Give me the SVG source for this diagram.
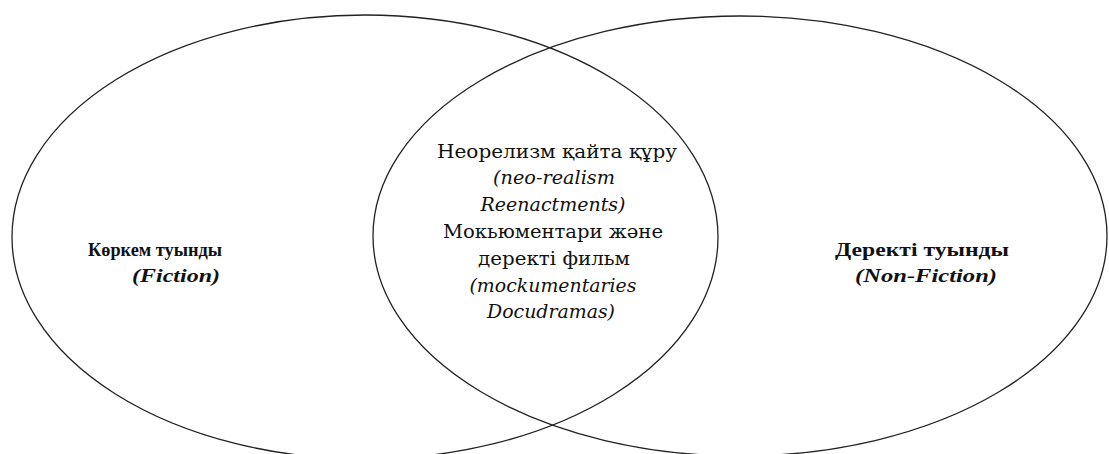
<svg xmlns="http://www.w3.org/2000/svg" width="1109" height="454" viewBox="0 0 1109 454">
<style>
.shape{fill:none;stroke:#222;stroke-width:1.3}
.t{font-family:"DejaVu Serif","Liberation Serif",serif;font-size:19px;fill:#111;text-anchor:middle}
.b{font-family:"Liberation Serif","DejaVu Serif",serif;font-weight:bold;font-size:18px}
.i{font-style:italic}
</style>
<rect width="1109" height="454" fill="#fff"/>
<g id="fiction">
<ellipse class="shape" cx="365" cy="237" rx="353" ry="222"/>
<text class="t b" x="155" y="256" textLength="134" lengthAdjust="spacingAndGlyphs">Көркем туынды</text>
<text class="t b i" x="176" y="282" textLength="88" lengthAdjust="spacingAndGlyphs">(Fiction)</text>
</g>
<g id="nonfiction">
<ellipse class="shape" cx="740" cy="236" rx="367" ry="220"/>
<text class="t b" x="922" y="256" textLength="174" lengthAdjust="spacingAndGlyphs">Деректі туынды</text>
<text class="t b i" x="926" y="282" textLength="142" lengthAdjust="spacingAndGlyphs">(Non-Fiction)</text>
</g>
<g id="overlap">
<text class="t" x="557" y="158" textLength="240" lengthAdjust="spacingAndGlyphs">Неорелизм қайта құру</text>
<text class="t i" x="554" y="184" textLength="122" lengthAdjust="spacingAndGlyphs">(neo-realism</text>
<text class="t i" x="553" y="211" textLength="145" lengthAdjust="spacingAndGlyphs">Reenactments)</text>
<text class="t" x="553" y="238" textLength="220" lengthAdjust="spacingAndGlyphs">Мокьюментари және</text>
<text class="t" x="554" y="265" textLength="152" lengthAdjust="spacingAndGlyphs">деректі фильм</text>
<text class="t i" x="553" y="292" textLength="167" lengthAdjust="spacingAndGlyphs">(mockumentaries</text>
<text class="t i" x="551" y="318" textLength="128" lengthAdjust="spacingAndGlyphs">Docudramas)</text>
</g>
<g id="connectors"></g>
</svg>
